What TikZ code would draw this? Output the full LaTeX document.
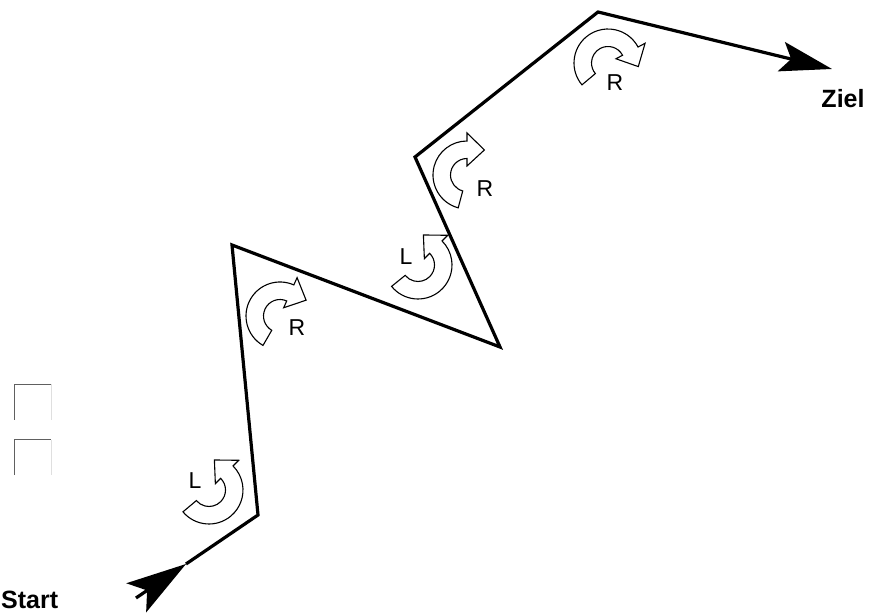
\documentclass[tikz,border=0pt]{standalone}
\usepackage{fontspec}
\setmainfont{Liberation Sans}
\usetikzlibrary{arrows.meta}
\tikzset{
  route/.style    ={line width=3.2pt, line join=miter, draw=black},
  starttip/.style ={-{Stealth[length=60pt, width=35pt, inset=13pt]}},
  goaltip/.style  ={-{Stealth[length=52pt, width=30pt, inset=10pt]}},
  turnline/.style ={draw=black, line width=1.1pt, fill=white, line join=miter},
  dirlbl/.style   ={inner sep=0pt, font=\fontsize{23}{27}\selectfont},
  endlbl/.style   ={inner sep=0pt, font=\fontsize{25}{29}\selectfont\bfseries},
  chkbox/.style   ={minimum width=36pt, minimum height=35pt, inner sep=0pt},
  pics/turn/.style args={#1/#2}{code={
    \draw[turnline] (#1:34) arc[start angle=#1, end angle=#2, radius=34]
      -- (#2:42) -- ({#2+34.8*sign(#2-#1)}:30.5) -- (#2:9)
      -- (#2:16.5) arc[start angle=#2, end angle=#1, radius=16.5] -- cycle;
  }}
}
\begin{document}
\begin{tikzpicture}[x=1pt, y=1pt]
  \useasboundingbox (0,0) rectangle (870,615);
  \coordinate (s)    at (136,17);
  \coordinate (m)    at (186,51);
  \coordinate (v1)   at (258,100);
  \coordinate (v2)   at (232,370);
  \coordinate (v3)   at (500,268);
  \coordinate (v4)   at (415,458);
  \coordinate (v5)   at (598,603);
  \coordinate (goal) at (832,546);
  \draw[route, starttip] (s) -- (m);
  \draw[route, goaltip] (m) -- (v1) -- (v2) -- (v3) -- (v4) -- (v5) -- (goal);
  \pic at (209,125) {turn=220/405};
  \pic at (280,299) {turn=240/66};
  \pic at (418,350) {turn=219/405};
  \pic at (467,440) {turn=255/90};
  \pic at (608,552) {turn=220/28};
  \node[dirlbl] (l1) at (195,134) {L};
  \node[dirlbl] (r2) at (297,287) {R};
  \node[dirlbl] (l3) at (406,358) {L};
  \node[dirlbl] (r4) at (485,426) {R};
  \node[dirlbl] (r5) at (615,532) {R};
  \node[endlbl] (ziel) at (843,516) {Ziel};
  \node[endlbl, anchor=west] (start) at (1,15) {Start};
  \node[chkbox] (boxA) at (33,213) {};
  \node[chkbox] (boxB) at (33,157.5) {};
  \foreach \b in {boxA,boxB}{
    \draw[gray!75!black, line width=1pt] (\b.south west) |- (\b.north east);
    \draw[gray!25, line width=1pt] (\b.north east) -- (\b.south east);
  }
\end{tikzpicture}
\end{document}
